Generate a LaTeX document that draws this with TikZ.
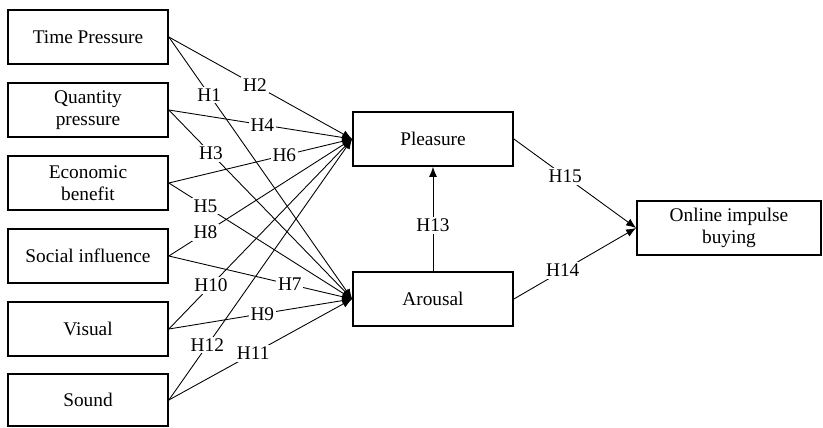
\documentclass[tikz,border=0pt]{standalone}
\usepackage{fontspec}
\setmainfont{Liberation Serif}
\usetikzlibrary{arrows.meta}
\tikzset{factor/.style={rectangle,draw=black,line width=1pt,minimum width=3.2cm,minimum height=1.08cm,align=center,inner sep=1pt,font=\fontsize{11}{12.5}\selectfont},
  hyp/.style={fill=white,inner sep=1pt,font=\fontsize{11}{12}\selectfont},
  link/.style={draw=black,line width=0.5pt,-{Latex[length=2mm,width=1.6mm]}}}
\begin{document}
\begin{tikzpicture}[x=0.02cm,y=-0.02cm]
\useasboundingbox (0,0) rectangle (823,427);
% Stimuli
\draw (88,37) node(s1)[factor] {Time Pressure};
\draw (88,110) node(s2)[factor] {Quantity\\pressure};
\draw (88,183) node(s3)[factor] {Economic\\benefit};
\draw (88,256) node(s4)[factor] {Social influence};
\draw (88,329) node(s5)[factor] {Visual};
\draw (88,400) node(s6)[factor,minimum height=1.04cm] {Sound};
% Organism
\draw (433,139) node(o1)[factor] {Pleasure};
\draw (433,299) node(o2)[factor] {Arousal};
% Response
\draw (729,228) node(r1)[factor,minimum width=3.68cm] {Online impulse\\buying};
% Stimuli to organism
\path[link] (s1.east) -- node[hyp,pos=0.22] {H1} (o2.west);
\path[link] (s1.east) -- node[hyp,pos=0.47] {H2} (o1.west);
\path[link] (s2.east) -- node[hyp,pos=0.23] {H3} (o2.west);
\path[link] (s2.east) -- node[hyp,pos=0.51] {H4} (o1.west);
\path[link] (s3.east) -- node[hyp,pos=0.2] {H5} (o2.west);
\path[link] (s3.east) -- node[hyp,pos=0.63] {H6} (o1.west);
\path[link] (s4.east) -- node[hyp,pos=0.66] {H7} (o2.west);
\path[link] (s4.east) -- node[hyp,pos=0.2] {H8} (o1.west);
\path[link] (s5.east) -- node[hyp,pos=0.51] {H9} (o2.west);
\path[link] (s5.east) -- node[hyp,pos=0.23] {H10} (o1.west);
\path[link] (s6.east) -- node[hyp,pos=0.46] {H11} (o2.west);
\path[link] (s6.east) -- node[hyp,pos=0.21] {H12} (o1.west);
% Organism to response
\path[link] (o2.north) -- node[hyp,pos=0.44] {H13} (o1.south);
\path[link] (o2.east) -- node[hyp,pos=0.4] {H14} (r1.west);
\path[link] (o1.east) -- node[hyp,pos=0.42] {H15} (r1.west);
\end{tikzpicture}
\end{document}
